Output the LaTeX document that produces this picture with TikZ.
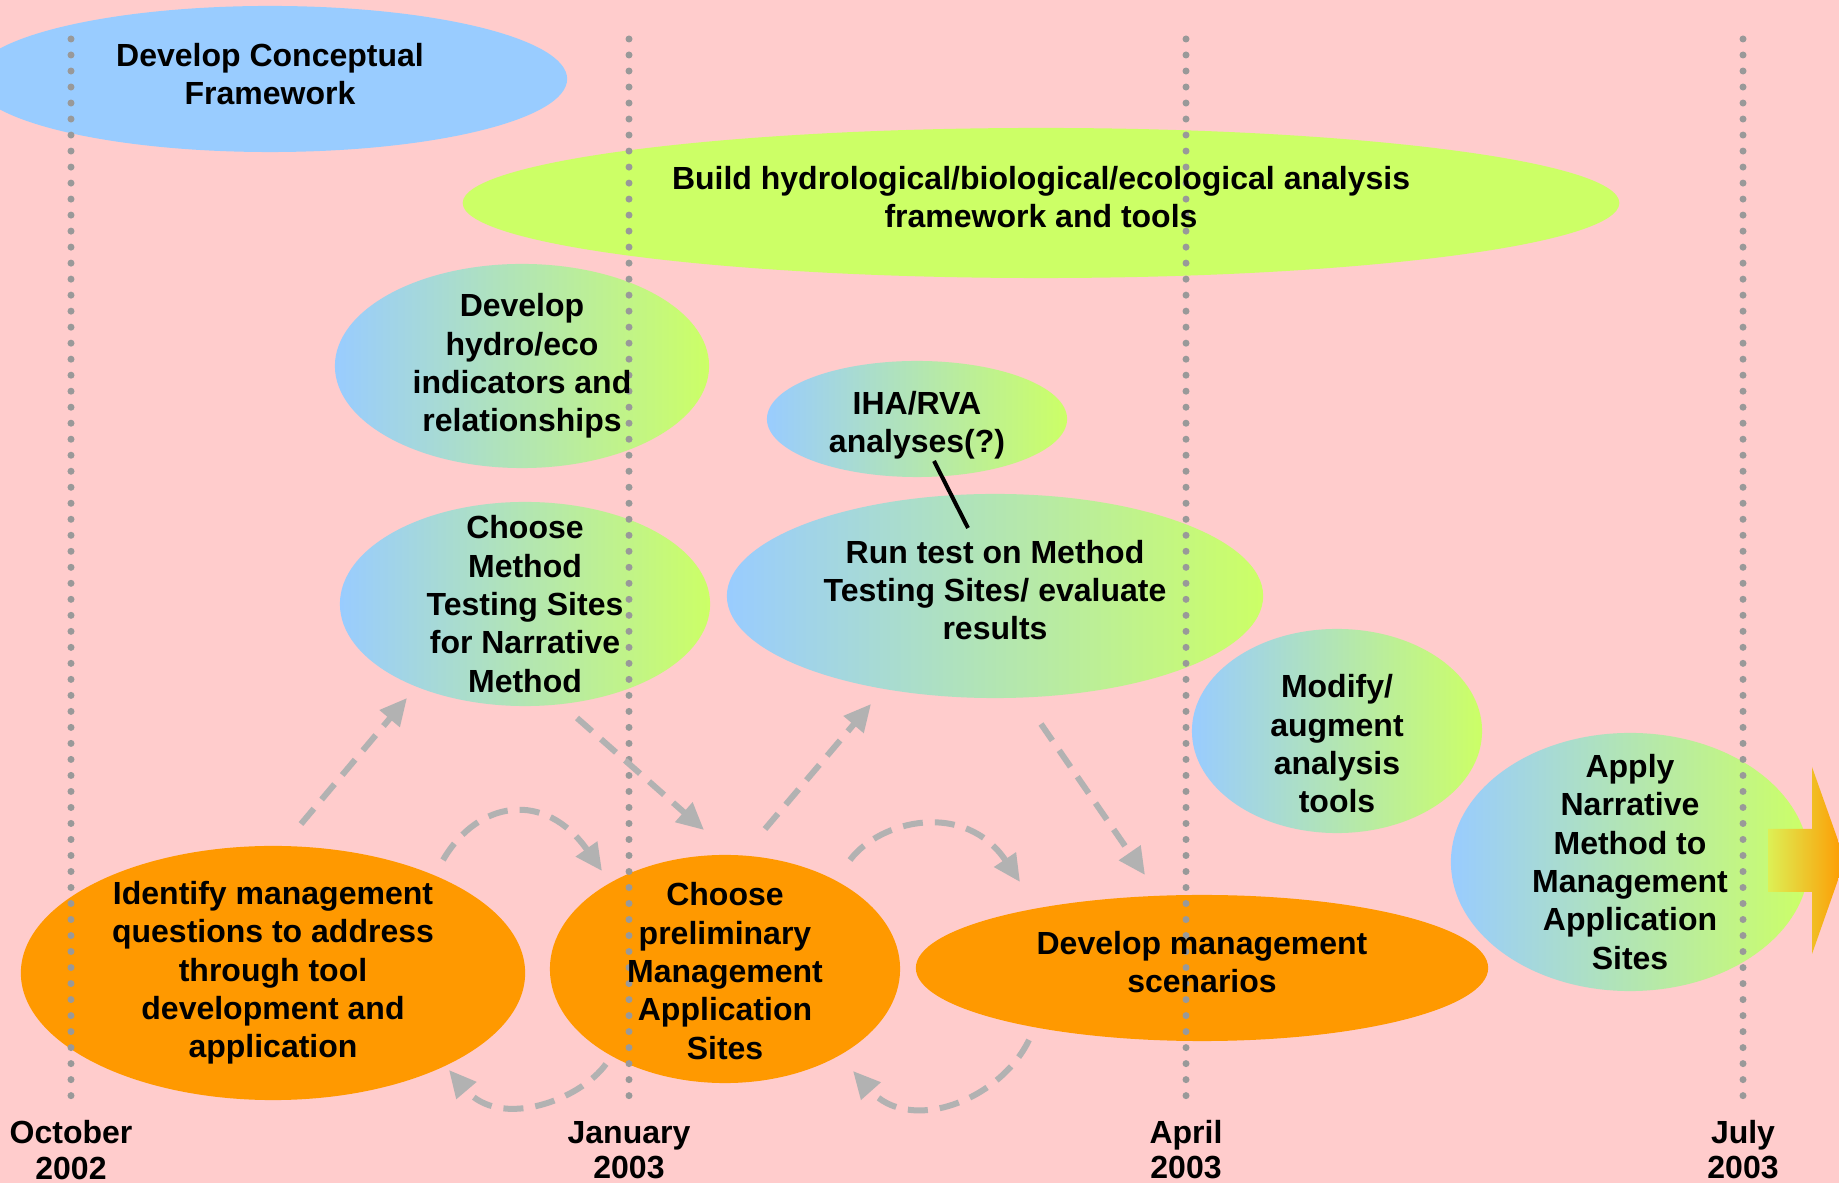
\documentclass[tikz,border=0pt]{standalone}
\usepackage{fontspec}
\setmainfont{Liberation Sans}
\usetikzlibrary{shapes.geometric,arrows.meta}
\definecolor{bgpink}{HTML}{FFCCCC}
\definecolor{skyblue}{HTML}{99CCFF}
\definecolor{limegreen}{HTML}{CCFF66}
\definecolor{arrowlime}{HTML}{DDF055}
\definecolor{tangerine}{HTML}{FF9900}
\definecolor{dashgray}{HTML}{B2B2B2}
\definecolor{dotgray}{HTML}{999999}
\begin{document}
\begin{tikzpicture}[x=0.01cm, y=-0.01cm, thick,
    every node/.style={font=\bfseries\fontsize{9.1}{10.9}\selectfont},
    oval/.style={ellipse, inner sep=0pt},
    solidoval/.style={oval, fill=#1},
    blend/.style={oval, left color=skyblue, right color=limegreen},
    txt/.style={align=center},
    hop/.style={draw=dashgray, line width=0.06cm, dash pattern=on 0.2cm off 0.12cm,
        -{Triangle[length=0.27cm, width=0.25cm]}}]
    \fill[bgpink] (0,0) rectangle (1839,1183);
    \useasboundingbox (0,0) rectangle (1839,1183);

    \node[solidoval=skyblue, minimum width=5.94cm, minimum height=1.46cm] (concept) at (270,79) {};
    \node[solidoval=limegreen, minimum width=11.56cm, minimum height=1.50cm] (build) at (1041,203) {};
    \node[blend, minimum width=3.74cm, minimum height=2.04cm] (indic) at (522,366) {};
    \node[blend, minimum width=3.00cm, minimum height=1.16cm] (iha) at (917,419) {};
    \node[blend, minimum width=3.70cm, minimum height=2.04cm] (pick) at (525,604) {};
    \node[blend, minimum width=5.36cm, minimum height=2.04cm] (run) at (995,596) {};
    \node[blend, minimum width=2.90cm, minimum height=2.04cm] (modify) at (1337,731) {};
    \node[blend, minimum width=3.58cm, minimum height=2.58cm] (apply) at (1630,862) {};
    \node[solidoval=tangerine, minimum width=5.04cm, minimum height=2.54cm] (ident) at (273,973) {};
    \node[solidoval=tangerine, minimum width=3.50cm, minimum height=2.28cm] (prelim) at (725,969) {};
    \node[solidoval=tangerine, minimum width=5.72cm, minimum height=1.46cm] (scen) at (1202,968) {};

    \foreach \idx/\x/\mon/\yr in {oct/71/October/2002, jan/629/January/2003,
                                  apr/1186/April/2003, jul/1743/July/2003} {
        \coordinate (top-\idx) at (\x,39);
        \coordinate (bot-\idx) at (\x,1100);
        \draw[dotgray, line width=0.07cm, line cap=round, dash pattern=on 0pt off 0.16cm]
            (top-\idx) -- (bot-\idx);
        \node[txt, font=\bfseries\fontsize{9.1}{10}\selectfont] (month-\idx) at (\x,1150) {\mon\\\yr};
    }

    \node[txt] (concept-t) at ([yshift=0.05cm]concept) {Develop Conceptual\\Framework};
    \node[txt] (build-t) at ([yshift=0.06cm]build) {Build hydrological/biological/ecological analysis\\framework and tools};
    \node[txt] (indic-t) at (indic) {Develop\\hydro/eco\\indicators and\\relationships};
    \node[txt] (iha-t) at ([yshift=-0.06cm]iha) {IHA/RVA\\analyses(?)};
    \node[txt] (pick-t) at (pick) {Choose\\Method\\Testing Sites\\for Narrative\\Method};
    \node[txt] (run-t) at ([yshift=0.06cm]run) {Run test on Method\\Testing Sites/ evaluate\\results};
    \node[txt] (modify-t) at ([yshift=-0.13cm]modify) {Modify/\\augment\\analysis\\tools};
    \node[txt] (apply-t) at (apply) {Apply\\Narrative\\Method to\\Management\\Application\\Sites};
    \node[txt] (ident-t) at (ident) {Identify management\\questions to address\\through tool\\development and\\application};
    \node[txt] (prelim-t) at ([yshift=-0.02cm]prelim) {Choose\\preliminary\\Management\\Application\\Sites};
    \node[txt] (scen-t) at ([yshift=0.06cm]scen) {Develop management\\scenarios};

    \coordinate (iha-foot) at (934,461);
    \coordinate (run-head) at (968,528);
    \draw[line width=0.04cm] (iha-foot) -- (run-head);

    \coordinate (ident-up) at (301,824);   \coordinate (pick-low) at (407,698);
    \coordinate (pick-out) at (577,718);   \coordinate (prelim-in) at (704,830);
    \coordinate (prelim-up) at (765,829);  \coordinate (run-low) at (871,704);
    \coordinate (run-out) at (1041,724);   \coordinate (scen-in) at (1145,875);
    \coordinate (ident-ne) at (443,860);   \coordinate (prelim-nw) at (602,871);
    \coordinate (prelim-ne) at (850,860);  \coordinate (scen-nw) at (1020,882);
    \coordinate (prelim-sw) at (606,1064); \coordinate (ident-se) at (449,1070);
    \coordinate (scen-sw) at (1029,1040);  \coordinate (prelim-se) at (853,1071);
    \draw[hop] (ident-up) -- (pick-low);
    \draw[hop] (pick-out) -- (prelim-in);
    \draw[hop] (prelim-up) -- (run-low);
    \draw[hop] (run-out) -- (scen-in);
    \draw[hop] (ident-ne) .. controls (478,800) and (545,790) .. (prelim-nw);
    \draw[hop] (prelim-ne) .. controls (880,820) and (965,800) .. (scen-nw);
    \draw[hop] (prelim-sw) .. controls (580,1100) and (500,1130) .. (ident-se);
    \draw[hop] (scen-sw) .. controls (1000,1100) and (910,1135) .. (prelim-se);

    \shade[left color=arrowlime, right color=tangerine]
        (1768,829) -- (1812,829) -- (1812,767) -- (1845,860) -- (1812,954)
        -- (1812,892) -- (1768,892) -- cycle;
\end{tikzpicture}
\end{document}
